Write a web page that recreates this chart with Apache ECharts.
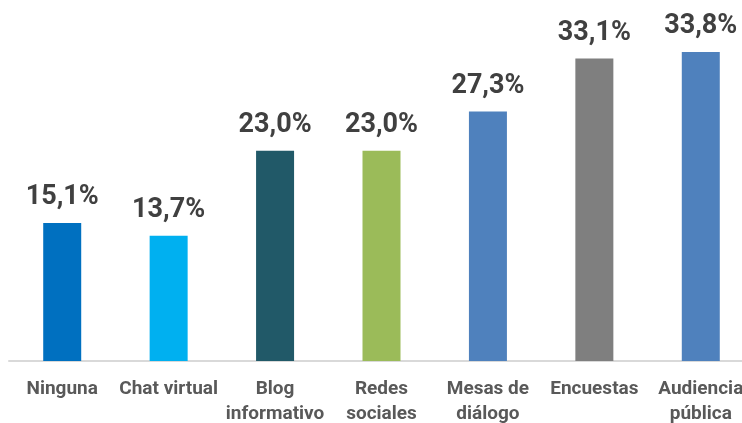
<!DOCTYPE html>
<html>
<head>
<meta charset="utf-8">
<script src="https://cdn.jsdelivr.net/npm/echarts@6/dist/echarts.min.js"></script>
<style>
  html, body { margin: 0; padding: 0; background: #fff; }
  #chart { width: 742px; height: 423px; }
</style>
</head>
<body>
<div id="chart"></div>
<script>
  // categorías y valores (%)
  var categories = ['Ninguna', 'Chat virtual', 'Blog\ninformativo', 'Redes\nsociales', 'Mesas de\ndiálogo', 'Encuestas', 'Audiencia\npública'];
  var values = [15.1, 13.7, 23.0, 23.0, 27.3, 33.1, 33.8];
  var barColors = ['#0070C0', '#00B0F0', '#215968', '#9BBB59', '#4F81BD', '#7F7F7F', '#4F81BD'];

  var fontMain = "Roboto, 'Liberation Sans', sans-serif";

  var myChart = echarts.init(document.getElementById('chart'));
  var option = {
    backgroundColor: '#ffffff',
    animation: false,
    grid: {
      left: 9,
      right: -12,
      top: 0,
      bottom: 62,
      outerBoundsMode: 'none'
    },
    xAxis: {
      type: 'category',
      data: categories,
      axisLine: { show: true, lineStyle: { color: '#d9d9d9', width: 2 } },
      axisTick: { show: false },
      axisLabel: {
        interval: 0,
        margin: 16,
        color: '#595959',
        fontSize: 19,
        fontWeight: 'bold',
        fontFamily: fontMain,
        lineHeight: 25
      }
    },
    yAxis: {
      type: 'value',
      min: 0,
      max: 39.5,
      show: false,
      splitLine: { show: false }
    },
    series: [{
      type: 'bar',
      barWidth: 38,
      data: values.map(function (v, i) {
        return { value: v, itemStyle: { color: barColors[i] } };
      }),
      label: {
        show: true,
        position: 'top',
        distance: 12,
        color: '#404040',
        fontSize: 27,
        fontWeight: 'bold',
        fontFamily: fontMain,
        formatter: function (p) {
          return p.value.toFixed(1).replace('.', ',') + '%';
        }
      }
    }]
  };
  myChart.setOption(option);
</script>
</body>
</html>
